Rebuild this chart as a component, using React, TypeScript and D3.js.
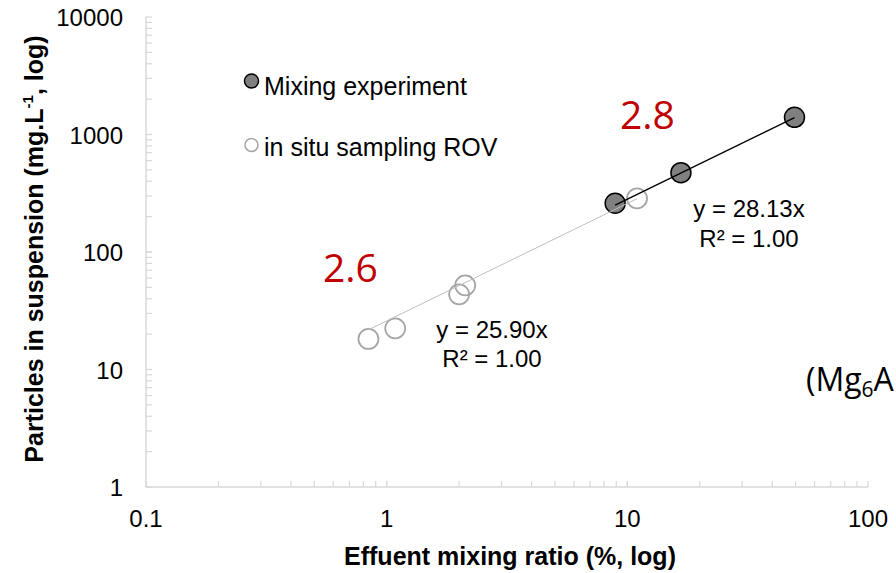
import React from "react";
import * as d3 from "d3";

const rovRatio = [0.84, 1.085, 2.0, 2.12, 10.97];
const rovParticles = [18.2, 22.4, 43.6, 52, 286];
const mixRatio = [8.9, 16.7, 49.5];
const mixParticles = [260, 473, 1400];
const rovSlope = 25.9;
const mixSlope = 28.13;
const xTicks = [0.1, 1, 10, 100];
const yTicks = [1, 10, 100, 1000, 10000];
const xTickLabels = ["0.1", "1", "10", "100"];
const yTickLabels = ["1", "10", "100", "1000", "10000"];

const W = 896;
const H = 573;
const axisColor = "#d9d9d9";
const sans = "'Liberation Sans', Arial, sans-serif";
const cal = "'Open Sans', 'Noto Sans', sans-serif";

export default function App() {
  const x = d3.scaleLog().domain([0.1, 100]).range([146, 868]);
  const y = d3.scaleLog().domain([1, 10000]).range([487, 17]);

  const minor = (lo: number, hi: number) => {
    const out: number[] = [];
    for (let d = lo; d < hi; d *= 10) for (let k = 1; k <= 10; k++) out.push(d * k);
    return out;
  };
  const xAll = minor(0.1, 100);
  const yAll = minor(1, 10000);

  const rovPts = rovRatio.map((r, i) => [r, rovParticles[i]]);
  const mixPts = mixRatio.map((r, i) => [r, mixParticles[i]]);
  const line = d3
    .line<number[]>()
    .x((d) => x(d[0]))
    .y((d) => y(d[1]));
  const rovExt = d3.extent(rovRatio) as [number, number];
  const mixExt = d3.extent(mixRatio) as [number, number];
  const rovTrend = rovExt.map((v) => [v, rovSlope * v]);
  const mixTrend = mixExt.map((v) => [v, mixSlope * v]);

  const [x0, x1] = x.range();
  const [y0, y1] = y.range();

  return (
    <svg
      width={W}
      height={H}
      style={{ position: "absolute", left: 0, top: 0, background: "#fff" }}
      fontFamily={sans}
    >
      {/* axes */}
      <line x1={x0} x2={x0} y1={y1} y2={y0} stroke={axisColor} strokeWidth={1.5} />
      <line x1={x0} x2={x1} y1={y0} y2={y0} stroke={axisColor} strokeWidth={1.5} />
      {yAll.map((v, i) => (
        <line key={"yt" + i} x1={x0} x2={x0 + 6} y1={y(v)} y2={y(v)} stroke={axisColor} strokeWidth={1.2} />
      ))}
      {xAll.map((v, i) => (
        <line key={"xt" + i} x1={x(v)} x2={x(v)} y1={y0} y2={y0 - 6} stroke={axisColor} strokeWidth={1.2} />
      ))}
      {yTicks.map((v, i) => (
        <text key={"yl" + i} x={x0 - 23} y={y(v) + 9} textAnchor="end" fontSize={24} fill="#000">
          {yTickLabels[i]}
        </text>
      ))}
      {xTicks.map((v, i) => (
        <text key={"xl" + i} x={x(v)} y={y0 + 40} textAnchor="middle" fontSize={24} fill="#000">
          {xTickLabels[i]}
        </text>
      ))}

      {/* axis titles */}
      <text x={510} y={565} textAnchor="middle" fontSize={25} fontWeight="bold" fill="#000">
        Effuent mixing ratio (%, log)
      </text>
      <text
        transform="translate(43,249) rotate(-90)"
        textAnchor="middle"
        fontSize={25}
        fontWeight="bold"
        fill="#000"
      >
        Particles in suspension (mg.L
        <tspan fontSize={15} dy={-10}>-1</tspan>
        <tspan dy={10}>, log)</tspan>
      </text>

      {/* data */}
      {rovPts.map((p, i) => (
        <circle key={"r" + i} cx={x(p[0])} cy={y(p[1])} r={10} fill="none" stroke="#a6a6a6" strokeWidth={1.8} />
      ))}
      {mixPts.map((p, i) => (
        <circle key={"m" + i} cx={x(p[0])} cy={y(p[1])} r={10} fill="#808080" stroke="#000" strokeWidth={1.5} />
      ))}
      <path d={line(rovTrend) || ""} stroke="#bfbfbf" strokeWidth={1} fill="none" />
      <path d={line(mixTrend) || ""} stroke="#000" strokeWidth={1.5} fill="none" />

      {/* regression labels */}
      <text x={492} y={338} textAnchor="middle" fontSize={24} fill="#000">y = 25.90x</text>
      <text x={492} y={367} textAnchor="middle" fontSize={24} fill="#000">R² = 1.00</text>
      <text x={749} y={217} textAnchor="middle" fontSize={24} fill="#000">y = 28.13x</text>
      <text x={749} y={247} textAnchor="middle" fontSize={24} fill="#000">R² = 1.00</text>

      {/* legend */}
      <circle cx={251.5} cy={81} r={7} fill="#808080" stroke="#000" strokeWidth={1.5} />
      <text x={264} y={95} fontSize={25} fill="#000">Mixing experiment</text>
      <circle cx={251.5} cy={145} r={6.5} fill="none" stroke="#a6a6a6" strokeWidth={1.5} />
      <text x={264} y={156} fontSize={25} fill="#000">in situ sampling ROV</text>

      {/* annotations */}
      <text x={323} y={282} fontSize={39} fill="#c00000" fontFamily={cal}>2.6</text>
      <text x={620} y={129} fontSize={39} fill="#c00000" fontFamily={cal}>2.8</text>
      <text x={806} y={391} fontSize={32} fill="#000" fontFamily={cal}>
        (Mg<tspan fontSize={21} dy={6}>6</tspan>
        <tspan dy={-6}>Al</tspan>
      </text>
    </svg>
  );
}
